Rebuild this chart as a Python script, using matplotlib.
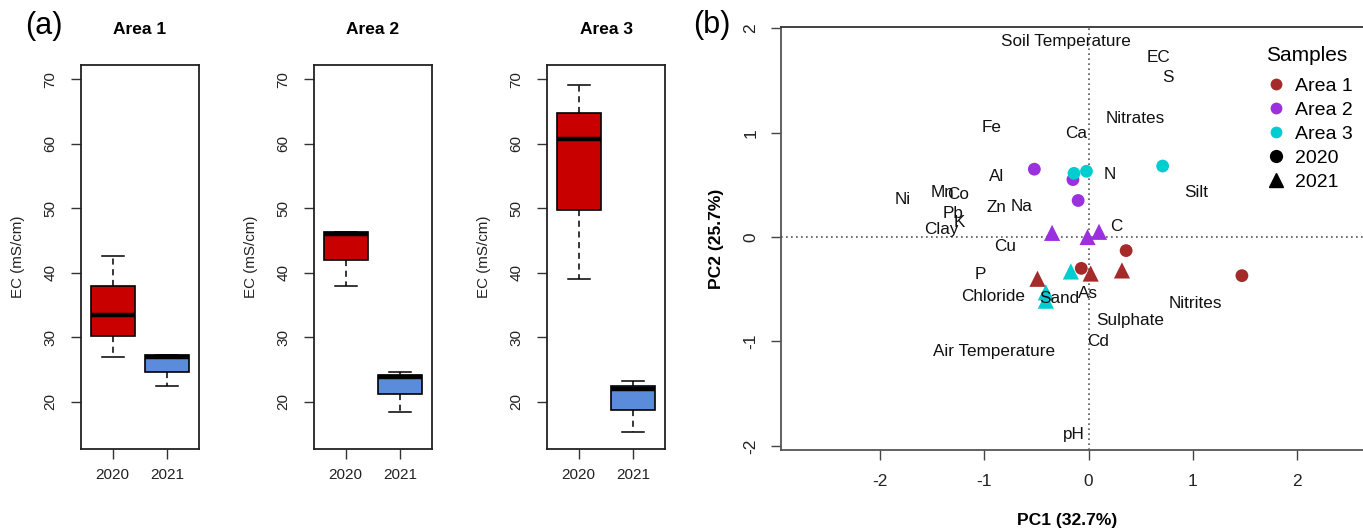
import matplotlib
matplotlib.use("Agg")
import matplotlib.pyplot as plt
from matplotlib.lines import Line2D

plt.rcParams['font.family'] = ['Liberation Sans', 'DejaVu Sans']

# ---------------- data: boxplots (EC, mS/cm) ----------------
areas = ['Area 1', 'Area 2', 'Area 3']
years = ['2020', '2021']
whislo = [[27.0, 22.4], [38.0, 18.5], [39.0, 15.4]]
q1 = [[30.2, 24.7], [42.0, 21.2], [49.8, 18.7]]
med = [[33.5, 26.9], [46.0, 23.9], [60.7, 22.0]]
q3 = [[38.0, 27.2], [46.3, 24.2], [64.8, 22.5]]
whishi = [[42.6, 27.2], [46.3, 24.6], [69.1, 23.3]]
box_colors = ['#C80000', '#5B8BDB']
ec_ticks = [20, 30, 40, 50, 60, 70]

# ---------------- data: PCA biplot ----------------
area_colors = {'Area 1': '#A52A2A', 'Area 2': '#9B30DF', 'Area 3': '#00CDD0'}
pts_area = ['Area 1'] * 6 + ['Area 2'] * 6 + ['Area 3'] * 6
pts_year = (['2020'] * 3 + ['2021'] * 3) * 3
pts_pc1 = [0.36, -0.07, 1.47, 0.02, 0.32, -0.49,
           -0.52, -0.15, -0.10, -0.35, -0.01, 0.10,
           -0.14, -0.02, 0.71, -0.17, -0.41, -0.41]
pts_pc2 = [-0.13, -0.30, -0.37, -0.35, -0.32, -0.40,
           0.65, 0.55, 0.35, 0.04, 0.00, 0.05,
           0.61, 0.63, 0.68, -0.33, -0.53, -0.61]

var_names = ['Soil Temperature', 'EC', 'S', 'Nitrates', 'Fe', 'Ca', 'Al', 'N', 'Silt',
             'Ni', 'Mn', 'Co', 'Pb', 'K', 'Clay', 'Zn', 'Na', 'Cu', 'C', 'P',
             'Chloride', 'Sand', 'As', 'Nitrites', 'Sulphate', 'Cd',
             'Air Temperature', 'pH']
var_pc1 = [-0.22, 0.67, 0.76, 0.45, -0.93, -0.12, -0.88, 0.20, 1.03,
           -1.78, -1.40, -1.25, -1.30, -1.24, -1.41, -0.88, -0.64, -0.80, 0.27, -1.04,
           -0.92, -0.28, -0.01, 1.02, 0.40, 0.09,
           -0.91, -0.14]
var_pc2 = [1.87, 1.72, 1.53, 1.14, 1.05, 0.99, 0.58, 0.60, 0.43,
           0.36, 0.43, 0.41, 0.23, 0.14, 0.07, 0.28, 0.29, -0.09, 0.10, -0.36,
           -0.57, -0.59, -0.54, -0.64, -0.80, -1.00,
           -1.10, -1.89]
pc_ticks = [-2, -1, 0, 1, 2]

W, H = 1363, 531
fig = plt.figure(figsize=(W / 100, H / 100), dpi=100)


def fx(px):
    return px / W


def fy(py):
    return 1 - py / H


# ---------------- boxplot panels ----------------
panel_left = [81, 314, 547]
for i, area in enumerate(areas):
    ax = fig.add_axes([fx(panel_left[i]), fy(449), 118 / W, (449 - 65) / H])
    stats = []
    for j in range(2):
        stats.append(dict(med=med[i][j], q1=q1[i][j], q3=q3[i][j],
                          whislo=whislo[i][j], whishi=whishi[i][j], fliers=[]))
    bp = ax.bxp(stats, positions=[1, 2], widths=0.8, patch_artist=True,
                showfliers=False, capwidths=0.4,
                boxprops=dict(linewidth=1.2, edgecolor='black'),
                medianprops=dict(color='black', linewidth=3.2, solid_capstyle='butt'),
                whiskerprops=dict(color='black', linewidth=1.1, linestyle=(0, (4, 3))),
                capprops=dict(color='black', linewidth=1.1))
    for patch, c in zip(bp['boxes'], box_colors):
        patch.set_facecolor(c)
    ax.set_xlim(0.42, 2.58)
    ax.set_ylim(12.7, 72.2)
    ax.set_xticks([1, 2])
    ax.set_xticklabels(years)
    ax.set_yticks(ec_ticks)
    ax.set_yticklabels([str(t) for t in ec_ticks], rotation=90, va='center')
    ax.tick_params(axis='both', labelsize=11, length=7, width=1.0, color='#333333',
                   labelcolor='#222222')
    ax.tick_params(axis='y', pad=10)
    ax.tick_params(axis='x', pad=7)
    for s in ax.spines.values():
        s.set_linewidth(1.3)
        s.set_color('#222222')
    fig.text(fx(panel_left[i] + 59), fy(29), area, ha='center', va='center',
             fontsize=12.5, fontweight='bold')
    fig.text(fx(panel_left[i] - 63), fy(257), 'EC (mS/cm)', ha='center', va='center',
             rotation=90, fontsize=10.9, color='#222222')

fig.text(fx(44), fy(26), '(a)', ha='center', va='center', fontsize=22)

# ---------------- PCA panel ----------------
axp = fig.add_axes([fx(781), fy(450), (W - 781) / W, (450 - 27) / H])
axp.set_xlim(-2.949, 2.631)
axp.set_ylim(-2.04, 2.012)
axp.axhline(0, color='#555555', linestyle=(0, (1, 2)), linewidth=1.2, zorder=1)
axp.axvline(0, color='#555555', linestyle=(0, (1, 2)), linewidth=1.2, zorder=1)

for a, yr, x, y in zip(pts_area, pts_year, pts_pc1, pts_pc2):
    if yr == '2020':
        axp.scatter([x], [y], s=85, marker='o', color=area_colors[a], edgecolors='none', zorder=2)
    else:
        axp.scatter([x], [y], s=135, marker='^', color=area_colors[a], edgecolors='none', zorder=2)

for name, x, y in zip(var_names, var_pc1, var_pc2):
    axp.text(x, y, name, ha='center', va='center', fontsize=12.3, color='#111111', zorder=4)

axp.set_xticks(pc_ticks)
axp.set_xticklabels([str(t) for t in pc_ticks])
axp.set_yticks(pc_ticks)
axp.set_yticklabels([str(t) for t in pc_ticks], rotation=90, va='center')
axp.tick_params(axis='both', labelsize=12.4, length=7.2, width=1.0, color='#444444',
                labelcolor='#222222')
axp.tick_params(axis='y', pad=9)
axp.tick_params(axis='x', pad=10)
for k, s in axp.spines.items():
    s.set_linewidth(1.3)
    s.set_color('#555555')
axp.spines['right'].set_visible(False)
axp.spines['top'].set_color('#333333')

fig.text(fx(1067), fy(521), 'PC1 (32.7%)', ha='center', va='center', fontsize=12.6,
         fontweight='bold')
fig.text(fx(716), fy(239), 'PC2 (25.7%)', ha='center', va='center', rotation=90,
         fontsize=12.6, fontweight='bold')
fig.text(fx(712), fy(25), '(b)', ha='center', va='center', fontsize=22)

handles = [Line2D([], [], marker='o', ls='', color=area_colors[a], markeredgecolor='none',
                  markersize=8.5) for a in areas]
handles.append(Line2D([], [], marker='o', ls='', color='black', markersize=8.5))
handles.append(Line2D([], [], marker='^', ls='', color='black', markersize=10))
labels = areas + years
leg = axp.legend(handles, labels, title='Samples', loc='upper left',
                 bbox_to_anchor=(fx(1266), fy(46)), bbox_transform=fig.transFigure,
                 frameon=False, fontsize=14, title_fontsize=15,
                 handletextpad=0.5, labelspacing=0.33, handlelength=1.0,
                 borderpad=0, borderaxespad=0)
leg._legend_box.align = 'left'
leg._legend_box.sep = 0.33 * 14 + 4.3

fig.savefig('out.png', dpi=100)
